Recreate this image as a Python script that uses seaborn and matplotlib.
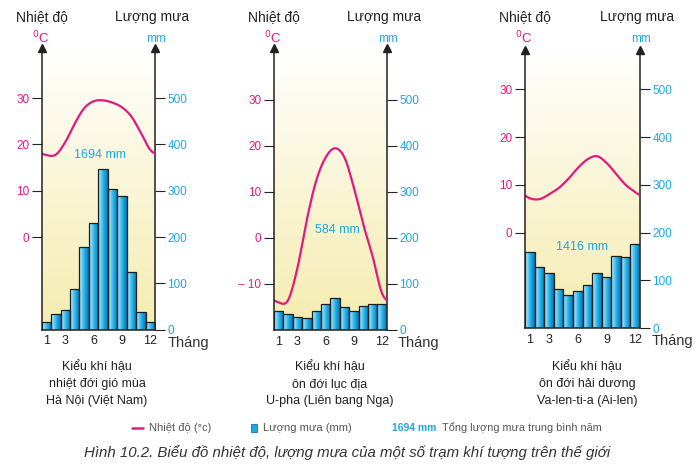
"""
Biểu đồ nhiệt độ, lượng mưa của ba trạm khí tượng (Hình 10.2)
Lưu ra out.png (697x471)
"""
import numpy as np
import pandas as pd
import matplotlib
matplotlib.use("Agg")
import matplotlib.pyplot as plt
from matplotlib.colors import LinearSegmentedColormap
from matplotlib.lines import Line2D
from matplotlib.patches import Rectangle
import seaborn as sns

sns.set_theme(style="white")
plt.rcParams["font.family"] = ["Liberation Sans Narrow", "Liberation Sans", "DejaVu Sans"]

# ── Dữ liệu ──
months = list(range(1, 13))
month_ticks = [1, 3, 6, 9, 12]

hanoi_temp = [17.7, 17.8, 20.5, 24.5, 27.8, 29.3, 29.5, 29.0, 28.0, 26.0, 22.5, 18.8]
hanoi_rain = [17, 33, 42, 87, 179, 230, 346, 304, 289, 124, 39, 17]

ufa_temp = [-14.0, -13.5, -6.5, 4.0, 12.5, 17.5, 19.5, 17.5, 11.0, 3.0, -4.0, -12.0]
ufa_rain = [42, 35, 29, 27, 41, 57, 70, 50, 41, 53, 57, 57]

valentia_temp = [7.2, 7.0, 8.0, 9.3, 11.2, 13.5, 15.3, 16.0, 14.6, 12.3, 10.0, 8.5]
valentia_rain = [160, 128, 116, 83, 69, 79, 91, 116, 108, 152, 149, 177]

totals = ["1694 mm", "584 mm", "1416 mm"]
titles = [
    ["Kiểu khí hậu", "nhiệt đới gió mùa", "Hà Nội (Việt Nam)"],
    ["Kiểu khí hậu", "ôn đới lục địa", "U-pha (Liên bang Nga)"],
    ["Kiểu khí hậu", "ôn đới hải dương", "Va-len-ti-a (Ai-len)"],
]

MAGENTA = "#E2197F"
CYAN = "#1EA7E1"
W, H = 697, 471

bar_cmap = LinearSegmentedColormap.from_list(
    "bar", ["#d6f2fc", "#5ccaf2", "#12a3df", "#0a73b8"])
bg_cmap = LinearSegmentedColormap.from_list("bg", ["#f5ecaf", "#faf5d6", "#ffffff"])


def fx(px):
    return px / W


def fy(py):
    return 1 - py / H


def smooth_periodic(values, n=400):
    """Đường cong Catmull-Rom tuần hoàn qua 12 giá trị tháng."""
    v = np.asarray(values, dtype=float)
    t = np.linspace(0.5, 12.5, n)
    base = np.floor(t).astype(int)
    u = t - base
    i = base - 1
    p0, p1, p2, p3 = v[(i - 1) % 12], v[i % 12], v[(i + 1) % 12], v[(i + 2) % 12]
    y = 0.5 * ((2 * p1) + (-p0 + p2) * u + (2 * p0 - 5 * p1 + 4 * p2 - p3) * u ** 2
               + (-p0 + 3 * p1 - 3 * p2 + p3) * u ** 3)
    return t, y


def draw_station(left, right, top, base, mm_top, temp, rain, temp_ticks,
                 total, total_xy, title_lines, title_x, label_x, tick_fs=8.5):
    rect = [fx(left), fy(base), fx(right - left), (base - top) / H]
    ax_t = fig.add_axes(rect)
    ax_r = ax_t.twinx()
    ax_t.set_zorder(ax_r.get_zorder() + 1)
    ax_t.patch.set_visible(False)

    # nền vàng nhạt
    grad = np.linspace(0, 1, 256).reshape(-1, 1)
    ax_r.imshow(grad, cmap=bg_cmap, origin="lower", extent=[0, 1, 0, 1],
                transform=ax_r.transAxes, aspect="auto", zorder=0)

    df = pd.DataFrame({"month": months, "rain": rain})
    sns.barplot(data=df, x="month", y="rain", native_scale=True, width=1.0,
                color=CYAN, ax=ax_r, zorder=2)
    for p in ax_r.patches:
        if not isinstance(p, Rectangle) or p.get_height() <= 0:
            continue
        x0, w, h = p.get_x(), p.get_width(), p.get_height()
        im = ax_r.imshow(np.linspace(0, 1, 64).reshape(1, -1), cmap=bar_cmap,
                         extent=[x0, x0 + w, 0, h], aspect="auto", zorder=2)
        im.set_clip_path(p)
        p.set_facecolor("none")
        p.set_edgecolor("#1e1e1e")
        p.set_linewidth(0.9)
        p.set_zorder(3)

    tx, ty = smooth_periodic(temp)
    sns.lineplot(x=tx, y=ty, ax=ax_t, color=MAGENTA, linewidth=1.6,
                 estimator=None, sort=False)

    ax_r.set_xlim(0.5, 12.5)
    ax_t.set_xlim(0.5, 12.5)
    ax_r.set_ylim(0, mm_top)
    ax_t.set_ylim(-20, (mm_top - 200) / 10)

    # trục nhiệt độ (trái)
    ax_t.set_yticks(temp_ticks)
    ax_t.set_yticklabels(["– 10" if v == -10 else str(v) for v in temp_ticks],
                         color=MAGENTA, fontsize=tick_fs,
                         family=["Liberation Sans", "DejaVu Sans"])
    ax_t.tick_params(axis="y", direction="out", length=7, width=0.8,
                     color="#222", pad=2, left=True)
    ax_t.set_xticks(month_ticks)
    ax_t.set_xticklabels([str(m) for m in month_ticks], fontsize=tick_fs + 0.5,
                         color="#222", family=["Liberation Sans", "DejaVu Sans"])
    ax_t.tick_params(axis="x", length=0, pad=4)

    # trục lượng mưa (phải)
    ax_r.set_yticks([0, 100, 200, 300, 400, 500])
    ax_r.set_yticklabels(["0", "100", "200", "300", "400", "500"], color=CYAN,
                         fontsize=tick_fs, family=["Liberation Sans", "DejaVu Sans"])
    ax_r.tick_params(axis="y", direction="out", length=7, width=0.8,
                     color="#222", pad=2, right=True)
    ax_r.tick_params(axis="x", bottom=False, labelbottom=False)
    ax_r.set_xlabel("")
    ax_r.set_ylabel("")
    ax_t.set_xlabel("")
    ax_t.set_ylabel("")

    for a in (ax_t, ax_r):
        for s in a.spines.values():
            s.set_visible(False)
    ax_t.spines["left"].set_visible(True)
    ax_t.spines["bottom"].set_visible(True)
    ax_r.spines["right"].set_visible(True)
    for s in (ax_t.spines["left"], ax_t.spines["bottom"], ax_r.spines["right"]):
        s.set_color("#222")
        s.set_linewidth(1.1)
    for xa in (0, 1):
        ax_t.plot([xa], [1], marker="^", markersize=6, color="#222",
                  transform=ax_t.transAxes, clip_on=False, zorder=10)

    # chữ quanh biểu đồ
    fig.text(fx(left), fy(17), "Nhiệt độ", ha="center", va="center",
             fontsize=10, color="#222")
    fig.text(fx(right - 3), fy(17), "Lượng mưa", ha="center", va="center",
             fontsize=10, color="#222")
    fig.text(fx(left - 1), fy(38), "$^{0}$C", ha="center", va="center",
             fontsize=9.5, color=MAGENTA)
    fig.text(fx(right + 1), fy(39), "mm", ha="center", va="center",
             fontsize=8.5, color=CYAN)
    fig.text(fx(label_x), fy(base + 13), "Tháng", ha="left", va="center",
             fontsize=10.5, color="#333")
    fig.text(fx(total_xy[0]), fy(total_xy[1]), total, ha="center", va="center",
             fontsize=9, color=CYAN)
    for k, line in enumerate(title_lines):
        fig.text(fx(title_x), fy(367 + 17 * k), line, ha="center", va="center",
                 fontsize=9, color="#222")


fig = plt.figure(figsize=(W / 100, H / 100), dpi=100)
fig.patch.set_facecolor("white")

draw_station(41.7, 155, 48, 329.7, 608, hanoi_temp, hanoi_rain, [0, 10, 20, 30],
             totals[0], (100, 155), titles[0], 97, 168)
draw_station(274, 386.7, 48, 330, 613, ufa_temp, ufa_rain, [-10, 0, 10, 20, 30],
             totals[1], (337, 230), titles[1], 330, 398)
draw_station(525, 640, 50, 328.3, 582, valentia_temp, valentia_rain, [0, 10, 20, 30],
             totals[2], (582, 247), titles[2], 587, 652)

# ── Chú giải ──
fig.add_artist(Line2D([fx(131.7), fx(143)], [fy(428), fy(428)], color=MAGENTA,
                      linewidth=1.8, transform=fig.transFigure))
fig.text(fx(149), fy(428), "Nhiệt độ (°c)", ha="left", va="center",
         fontsize=8, color="#555")
fig.add_artist(Rectangle((fx(251), fy(432)), fx(6), 8 / H, transform=fig.transFigure,
                         facecolor="#1EA7E1", edgecolor="#0a73b8", linewidth=0.6))
fig.text(fx(262.7), fy(428), "Lượng mưa (mm)", ha="left", va="center",
         fontsize=8, color="#555")
fig.text(fx(391.7), fy(428), "1694 mm", ha="left", va="center",
         fontsize=7.5, color=CYAN, weight="bold")
fig.text(fx(442), fy(428), "Tổng lượng mưa trung bình năm", ha="left", va="center",
         fontsize=7.8, color="#555")

fig.text(fx(347), fy(453),
         "Hình 10.2. Biểu đồ nhiệt độ, lượng mưa của một số trạm khí tượng trên thế giới",
         ha="center", va="center", fontsize=10.8, style="italic", color="#333")

fig.savefig("out.png", dpi=100)
